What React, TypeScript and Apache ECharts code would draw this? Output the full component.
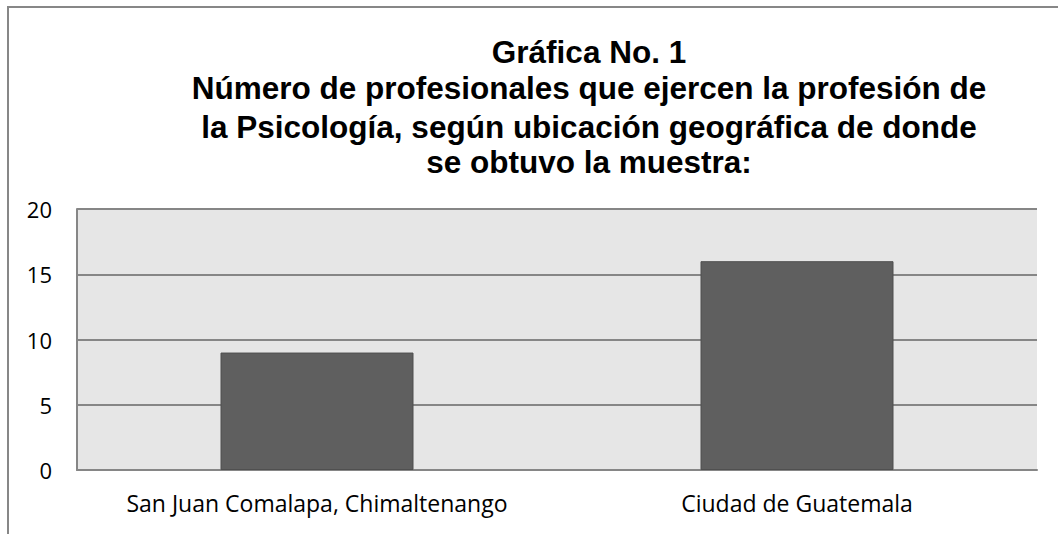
import React, { useEffect, useRef } from "react";
import * as echarts from "echarts";

const categories = ["San Juan Comalapa, Chimaltenango", "Ciudad de Guatemala"];
const values = [9, 16];
const titleLines = [
  "Gráfica No. 1",
  "Número de profesionales que ejercen la profesión de",
  "la Psicología, según ubicación geográfica de donde",
  "se obtuvo la muestra:",
];

export default function App() {
  const ref = useRef<HTMLDivElement>(null);
  useEffect(() => {
    if (!ref.current) return;
    const chart = echarts.init(ref.current, null, { renderer: "svg" });
    const lineY = [52, 88, 127, 162];
    chart.setOption({
      animation: false,
      backgroundColor: "#ffffff",
      graphic: [
        {
          type: "rect",
          shape: { x: 8, y: 7, width: 1300, height: 700 },
          style: { fill: "none", stroke: "#878787", lineWidth: 2 },
          silent: true,
        },
        ...titleLines.map((t, i) => ({
          type: "text",
          x: 589,
          y: lineY[i],
          style: {
            text: t,
            fontFamily: "'Liberation Sans', Arial, sans-serif",
            fontWeight: "bold",
            fontSize: 31.5,
            fill: "#000000",
            align: "center",
            verticalAlign: "middle",
          },
        })),
      ],
      grid: {
        left: 77,
        top: 209,
        right: 21,
        bottom: 64,
        show: true,
        backgroundColor: "#e6e6e6",
        borderWidth: 0,
      },
      xAxis: {
        type: "category",
        data: categories,
        axisLine: { show: true, lineStyle: { color: "#868686", width: 2 } },
        axisTick: { show: false },
        axisLabel: {
          interval: 0,
          hideOverlap: false,
          color: "#000000",
          fontFamily: "'Open Sans', sans-serif",
          fontSize: 23,
          margin: 21,
        },
      },
      yAxis: {
        type: "value",
        min: 0,
        max: 20,
        interval: 5,
        axisLine: { show: true, lineStyle: { color: "#868686", width: 2 } },
        axisTick: { show: false },
        splitLine: { show: true, lineStyle: { color: "#868686", width: 2 } },
        axisLabel: {
          color: "#000000",
          fontFamily: "'Open Sans', sans-serif",
          fontSize: 22,
          margin: 25,
        },
      },
      series: [
        {
          type: "bar",
          data: values,
          barWidth: 193,
          itemStyle: { color: "#5f5f5f", borderColor: "#4f4f4f", borderWidth: 1 },
        },
      ],
    });
    return () => chart.dispose();
  }, []);
  return (
    <div
      ref={ref}
      style={{ position: "absolute", left: 0, top: 0, width: 1058, height: 534 }}
    />
  );
}
